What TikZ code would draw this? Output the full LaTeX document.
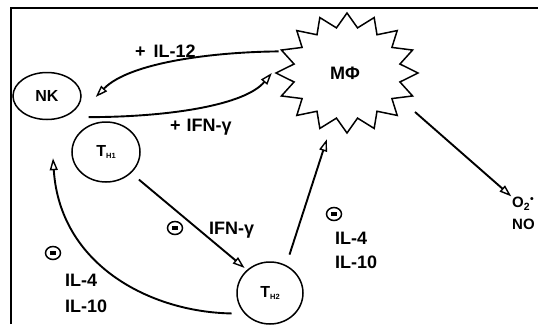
\documentclass[tikz,border=0pt]{standalone}
\usepackage{fontspec}
\setmainfont{Liberation Sans}
\usetikzlibrary{arrows.meta,shapes.geometric}
\newcommand\hsub[1]{\raisebox{-2.5pt}{\fontsize{7.5}{7.5}\selectfont #1}}
\newcommand\negbar{\rule{6.5pt}{3.2pt}}
\begin{document}
\begin{tikzpicture}[x=1pt,y=-1pt,
  lbl/.style={font=\bfseries\fontsize{18}{20}\selectfont, inner sep=0pt},
  pair/.style={font=\bfseries\fontsize{18}{#1}\selectfont, inner sep=0pt, align=left, anchor=west},
  cell/.style={ellipse, draw, line width=1.5pt, inner sep=0pt, font=\bfseries\fontsize{16}{17}\selectfont},
  link/.style={line width=1.9pt, -{Triangle[open, length=12pt, width=8pt, line width=1.4pt]}},
  neg/.style={ellipse, draw, line width=1.5pt, minimum width=15pt, minimum height=13pt, inner sep=0pt},
]
\useasboundingbox (0,0) rectangle (538,324);

% frame
\draw[line width=1.8pt] (11,324) -- (11,8) -- (538,8);

% macrophage: sixteen-pointed star
\draw[line width=1.5pt, line join=miter]
  plot[samples at={0,...,31}, variable=\k]
  ({347 + ifthenelse(mod(\k,2)==0,71,54)*cos(90+11.25*\k)},
   {73 - ifthenelse(mod(\k,2)==0,60,46)*sin(90+11.25*\k)}) -- cycle;
\node[ellipse, minimum width=142pt, minimum height=120pt, inner sep=0pt,
      font=\bfseries\fontsize{18}{20}\selectfont] (mf) at (345,73) {MΦ};

% cells
\node[cell, minimum width=68pt, minimum height=47pt] (nk) at (47,96) {NK};
\node[cell, minimum width=68pt, minimum height=60pt] (th1) at (106,152) {T\hsub{H1}};
\node[cell, minimum width=66pt, minimum height=62pt] (th2) at (270,293) {T\hsub{H2}};

% products
\node[font=\bfseries\fontsize{15}{22}\selectfont, inner sep=0pt, align=left, anchor=north west]
  (ros) at (512,197) {O\textsubscript{2}\textsuperscript{•}\\NO};

% connectors
\draw[link] (mf.162) .. controls (215,52) and (130,62) .. ([shift={(14,1)}]nk.east);
\draw[link] ([shift={(17,4)}]nk.south east) .. controls (170,117) and (245,105) .. ([xshift=-2pt]mf.west);
\draw[link, shorten <=10pt, shorten >=3pt] (th1.-40) -- (th2.135);
\draw[link, shorten <=11pt, shorten >=8pt] (th2.60) -- (mf.255);
\draw[link] ([shift={(-7,9)}]th2.200) .. controls (150,312) and (60,265) .. ([shift={(6,38)}]nk.south);
\draw[link, shorten <=12pt, shorten >=1pt] (mf.-27.5) -- (ros.north west);

% labels
\node[lbl, anchor=base west] (l12) at (135,57) {+\hspace{8pt}IL-12};
\node[lbl, anchor=base west] (lifnA) at (170,131.5) {+\hspace{6pt}IFN-γ};
\node[neg] (nA) at (175,228) {\negbar};
\node[lbl, anchor=base west] (lifnB) at (209,234.5) {IFN-γ};
\node[neg] (nB) at (53,253) {\negbar};
\node[pair=26] (lilA) at (65,293) {IL-4\\IL-10};
\node[neg] (nC) at (334,214) {\negbar};
\node[pair=24] (lilB) at (335,250) {IL-4\\IL-10};
\end{tikzpicture}
\end{document}
